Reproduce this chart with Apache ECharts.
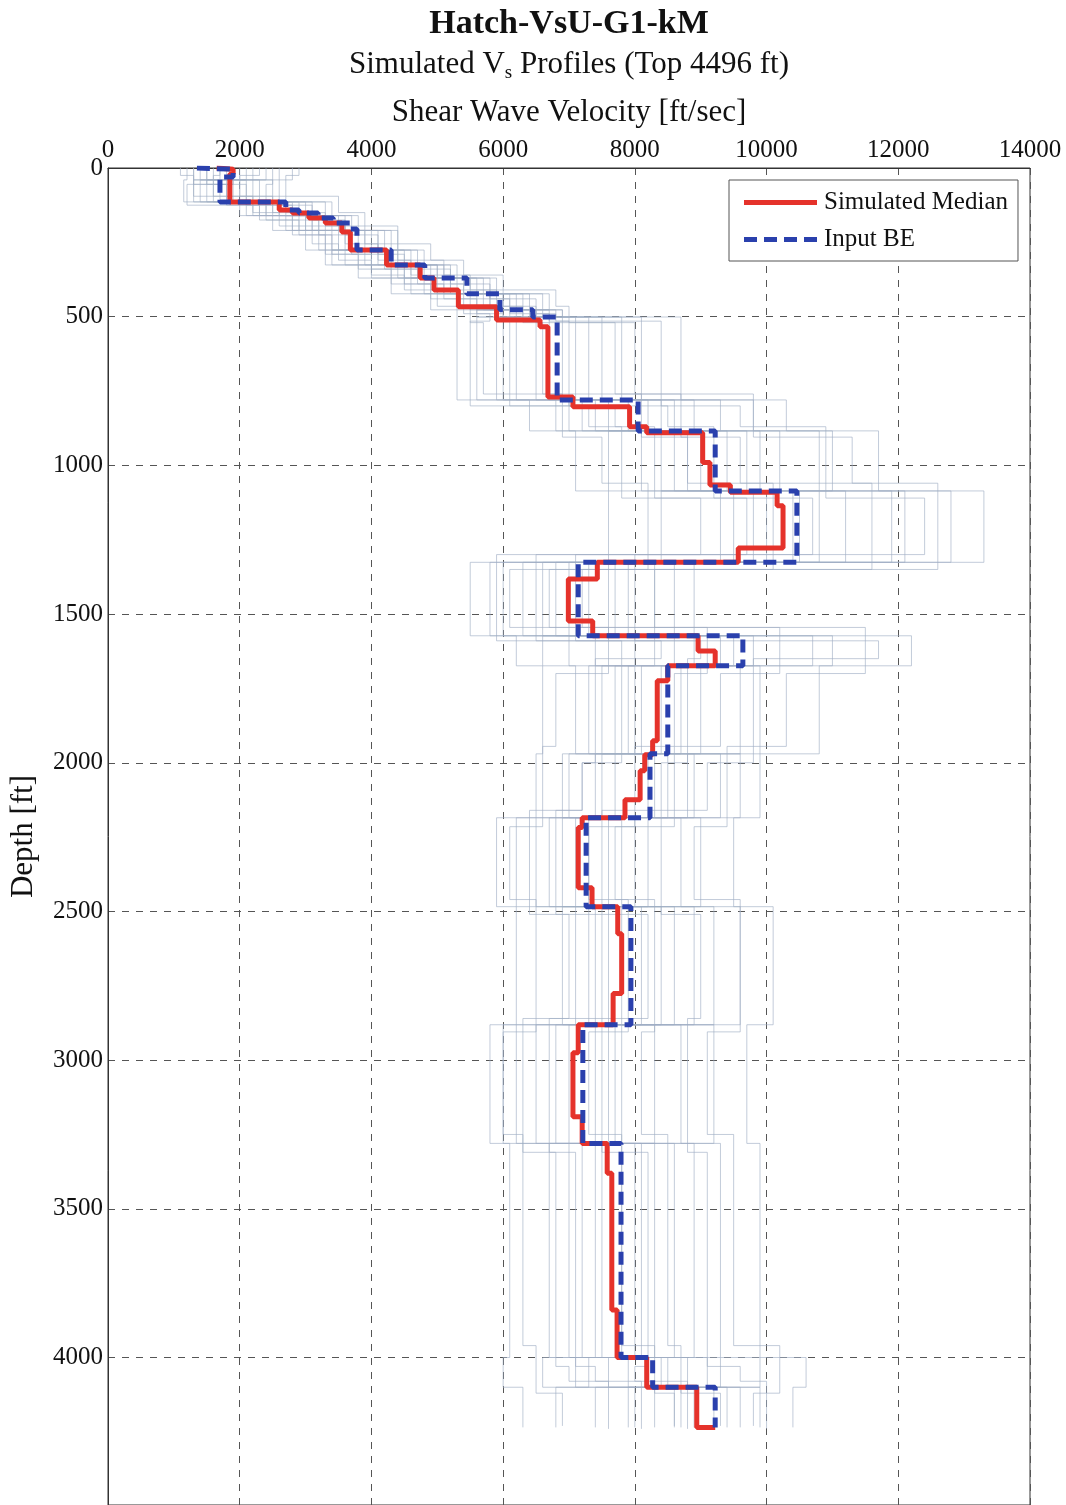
<!DOCTYPE html>
<html><head><meta charset="utf-8">
<script src="https://cdn.jsdelivr.net/npm/echarts@6/dist/echarts.min.js"></script>
<style>html,body{margin:0;padding:0;background:#fff}#c{width:1066px;height:1505px}</style>
</head><body><div id="c"></div>
<script>
// ---- Data (velocity in ft/sec, depth in ft) ----
const xTickStep = 2000, xMax = 14000;
const yTickStep = 500, yMax = 4496;

// Input best-estimate profile: layer top depths (last = bottom) and velocities
const beDepth = [0, 4, 30, 114, 141, 151, 168, 185, 205, 276, 326, 370, 423, 477, 501, 780, 884, 1086, 1326, 1573, 1674, 1970, 2185, 2484, 2881, 3280, 4000, 4100, 4235];
const beVel   = [1350, 1900, 1700, 2700, 2900, 3190, 3420, 3680, 3780, 4300, 4810, 5450, 5950, 6450, 6820, 8050, 9220, 10460, 7140, 9640, 8500, 8230, 7260, 7940, 7210, 7790, 8270, 9220];

// Simulated median profile
const mdDepth = [0, 4, 20, 114, 141, 151, 168, 185, 215, 276, 326, 370, 410, 467, 511, 534, 770, 803, 870, 890, 990, 1066, 1090, 1136, 1278, 1326, 1382, 1523, 1573, 1624, 1674, 1724, 1926, 1973, 2027, 2124, 2185, 2218, 2420, 2484, 2575, 2776, 2881, 2975, 3190, 3280, 3380, 3840, 4000, 4100, 4235, 4236];
const mdVel   = [1650, 1900, 1850, 2600, 2800, 3050, 3300, 3550, 3680, 4230, 4740, 4950, 5320, 5900, 6560, 6680, 7060, 7920, 8180, 9030, 9140, 9450, 10160, 10250, 9570, 7430, 6990, 7360, 8960, 9220, 8500, 8340, 8270, 8150, 8080, 7850, 7200, 7140, 7350, 7740, 7800, 7670, 7140, 7060, 7200, 7580, 7650, 7730, 8180, 8940, 9220];

// Simulated (randomized) profiles; three sets of layer depths
const simDepthA = [0, 40, 114, 160, 210, 276, 326, 370, 423, 477, 501, 780, 884, 1086, 1326, 1573, 1674, 1970, 2185, 2484, 2881, 3280, 4000, 4100, 4235];
const simDepthB = [0, 25, 95, 150, 195, 255, 310, 360, 410, 465, 520, 760, 905, 1060, 1350, 1545, 1700, 1945, 2215, 2460, 2905, 3250, 3960, 4120, 4230];
const simDepthC = [0, 55, 125, 175, 225, 290, 340, 390, 440, 490, 515, 800, 870, 1110, 1300, 1590, 1650, 2000, 2160, 2510, 2860, 3310, 4030, 4080, 4240];
const sim01 = [1200,1150,2100,2500,3000,3300,3800,4300,4900,5300,5300,6400,7100,7600,5500,6200,6600,6500,5900,6200,5800,6100,6000,6300];
const sim02 = [2800,2600,3300,3700,4300,4700,5200,5800,6600,6900,8700,10300,11700,13300,8900,12200,10800,9900,9500,10100,9700,9900,10600,10400];
const sim03 = [1600,1500,2400,2900,3400,3900,4400,5000,5600,6100,6200,7200,8400,9300,6300,8000,7700,7400,6500,7100,6500,7000,7600,8000];
const sim04 = [2100,2000,2900,3500,3900,4500,5000,5600,6200,6800,7300,8600,9700,11200,7600,9800,9000,8800,7800,8400,7700,8300,8800,9600];
const sim05 = [1400,1900,2300,3100,3600,4000,4600,5100,5700,6300,5900,7600,8100,10500,6800,8600,8100,7000,7300,7400,6800,7400,7900,8700];
const sim06 = [2400,1300,3000,3300,4000,4300,4900,5500,6300,6600,7800,8200,10200,9800,7300,10700,8700,8500,6900,8900,7400,8000,9300,9200];
const sim07 = [1800,2300,2600,3600,3500,4400,4500,5400,5800,6500,6900,9300,9000,12100,6000,9300,7900,9300,8200,7800,8300,7200,8400,8600];
const sim08 = [1300,1700,2200,2800,3800,4100,4800,5200,6100,6200,5600,7000,8800,10000,8300,7400,9600,7700,6200,8100,6200,8600,7100,9900];
const sim09 = [2600,2200,2800,3000,3300,3800,5100,5700,5500,6700,7500,8900,7600,10800,7000,8300,7300,8200,8700,9200,7000,7800,8200,7400];
const sim10 = [1700,1400,2700,3400,4100,4600,4300,4800,6400,6400,6500,7900,9400,8400,6600,11000,8400,6900,7600,6900,8700,9300,9900,8300];
const sim11 = [2000,1600,2500,3200,3700,3600,5000,5300,5800,5900,8100,7400,10800,11900,7900,7000,7100,8900,7100,7600,9200,7500,6600,8900];
const sim12 = [1500,2500,3100,2700,3200,4200,4700,4600,5300,6900,6000,8400,8600,9500,5800,8900,9900,7500,6700,9600,7800,6700,8500,9400];
const sim13 = [2200,1800,2000,3800,4200,3400,4000,5900,6000,5600,7100,9800,9900,12800,7700,6600,8000,9600,8000,8600,6000,8900,7300,6800];
const sim14 = [1900,2100,3400,3000,4400,4800,5300,4900,6700,6000,6700,6800,11000,10400,8600,9500,7500,8300,9000,7300,7600,8100,9100,7900];
const sim15 = [1100,1300,2200,2600,3100,3500,4000,4500,5000,5500,5700,6900,7500,8200,6100,7600,6800,6600,6100,6500,6000,6300,6500,6900];
const sim16 = [2900,2700,3500,3900,4400,4900,5400,6000,6800,7000,8000,9800,11300,12600,8300,11500,10300,9400,8900,9600,9100,9500,10200,9800];
const sim17 = [1700,1600,2500,3100,3600,4100,4600,5200,5900,6300,6600,8100,8800,10100,7200,9100,8600,8000,7300,7900,7300,7800,8300,8600];
const sim18 = [2300,2000,2700,3300,3900,4400,5100,5500,6000,6500,7700,8700,9600,11600,6700,10200,9300,8600,7700,8300,8100,8500,8700,9300];
const sim19 = [1500,1800,2400,2900,3400,4000,4500,5100,5600,6000,6100,7700,8300,9000,6500,8400,7800,7200,6800,7500,6700,7100,7400,8100];
const sim20 = [2500,2400,3100,3600,4100,4500,5200,5800,6500,6800,8400,9600,10900,12400,8000,11700,9800,9100,8400,9000,8800,9100,9600,10000];
const sim21 = [1900,1200,2800,3200,3700,4200,4700,5400,6100,6700,7000,8500,9200,10700,7100,9000,8800,8400,7500,8200,7500,8200,8000,8800];
const sim22 = [1300,2100,2300,2800,3300,3800,4300,4900,5400,5800,5500,7300,7800,9700,5900,7800,7400,7200,6400,7000,6300,6800,7000,7600];
const simSetA = [sim01, sim02, sim03, sim04, sim05, sim06, sim07, sim08, sim09, sim10, sim11, sim12, sim13, sim14];
const simSetB = [sim15, sim16, sim17, sim18];
const simSetC = [sim19, sim20, sim21, sim22];

// ---- Build step profiles ----
function steps(depths, vels) {
  const pts = [];
  for (let i = 0; i < vels.length; i++) {
    pts.push([vels[i], depths[i]]);
    pts.push([vels[i], depths[i + 1]]);
  }
  return pts;
}

const FONT = '"Liberation Serif", "DejaVu Serif", serif';
const series = [];
let k = 0;
[[simDepthA, simSetA], [simDepthB, simSetB], [simDepthC, simSetC]].forEach(([d, set]) => {
  set.forEach(p => {
    k++;
    series.push({
      name: 'sim' + k, type: 'line', data: steps(d, p),
      showSymbol: false, symbol: 'none', silent: true, z: 1,
      lineStyle: { color: '#9fadc4', width: 0.9, opacity: 0.7 }
    });
  });
});
const RED = '#e5322b', BLUE = '#2a40ad';
series.push({
  name: 'Simulated Median', type: 'line', data: steps(mdDepth, mdVel),
  showSymbol: false, symbol: 'none', z: 3,
  lineStyle: { color: RED, width: 5 }, itemStyle: { color: RED }
});
series.push({
  name: 'Input BE', type: 'line', data: steps(beDepth, beVel),
  showSymbol: false, symbol: 'none', z: 4,
  lineStyle: { color: BLUE, width: 5, type: [13, 7] }, itemStyle: { color: BLUE }
});

const chart = echarts.init(document.getElementById('c'), null, { renderer: 'canvas' });
chart.setOption({
  animation: false,
  backgroundColor: '#ffffff',
  title: [
    { text: 'Hatch-VsU-G1-kM', left: 564, textAlign: 'center', top: 2,
      textStyle: { fontFamily: FONT, fontSize: 34, fontWeight: 'bold', color: '#111' } },
    { text: '{a|Simulated V}{s|s}{a| Profiles (Top 4496 ft)}', left: 564, textAlign: 'center', top: 42,
      textStyle: { fontFamily: FONT, fontSize: 31, fontWeight: 'normal', color: '#111',
        rich: {
          a: { fontFamily: FONT, fontSize: 31, fontWeight: 'normal', color: '#111', lineHeight: 36, verticalAlign: 'middle' },
          s: { fontFamily: FONT, fontSize: 19, fontWeight: 'normal', color: '#111', lineHeight: 36, verticalAlign: 'bottom', padding: [14, 0, 0, 0] }
        } } }
  ],
  legend: {
    data: [
      { name: 'Simulated Median', icon: 'path://M0,0H73V5H0Z' },
      { name: 'Input BE', icon: 'path://M0,0H13V5H0Z M20,0H33V5H20Z M40,0H53V5H40Z M60,0H73V5H60Z' }
    ],
    orient: 'vertical', left: 729, top: 180,
    padding: [8, 10, 7, 15], itemGap: 8,
    itemWidth: 73, itemHeight: 5,
    backgroundColor: '#fff', borderColor: '#555', borderWidth: 1, borderRadius: 0,
    textStyle: { fontFamily: FONT, fontSize: 25, color: '#111', lineHeight: 29, padding: [0, 0, 0, 2] }
  },
  grid: { left: 108, top: 168, right: 36, bottom: 0, show: true, borderColor: '#333', borderWidth: 1, containLabel: false },
  xAxis: {
    type: 'value', position: 'top', min: 0, max: xMax, interval: xTickStep,
    name: 'Shear Wave Velocity [ft/sec]', nameLocation: 'middle', nameGap: 40,
    nameTextStyle: { fontFamily: FONT, fontSize: 31, color: '#111' },
    axisLine: { show: true, lineStyle: { color: '#333', width: 1 } },
    axisTick: { show: false },
    axisLabel: { fontFamily: FONT, fontSize: 25, color: '#111', margin: 5, formatter: v => String(v) },
    splitLine: { show: true, lineStyle: { color: '#555', width: 1, type: [7, 7] } }
  },
  yAxis: {
    type: 'value', inverse: true, min: 0, max: yMax, interval: yTickStep,
    name: 'Depth [ft]', nameLocation: 'middle', nameGap: 69,
    nameTextStyle: { fontFamily: FONT, fontSize: 31, color: '#111' },
    axisLine: { show: true, lineStyle: { color: '#333', width: 1 } },
    axisTick: { show: false },
    axisLabel: { fontFamily: FONT, fontSize: 25, color: '#111', margin: 5,
      formatter: v => (v % yTickStep === 0 ? String(v) : '') },
    splitLine: { show: true, lineStyle: { color: '#555', width: 1, type: [7, 7] } }
  },
  series: series
});
</script>
</body></html>
